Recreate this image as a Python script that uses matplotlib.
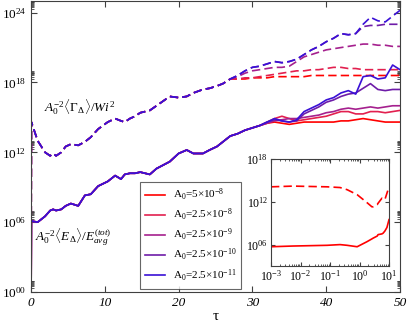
import matplotlib
matplotlib.use("Agg")
import matplotlib.pyplot as plt
import numpy as np
from matplotlib.ticker import FixedLocator, FixedFormatter, NullFormatter

plt.rcParams["font.family"] = ["Liberation Serif", "DejaVu Serif"]
plt.rcParams["mathtext.fontset"] = "custom"
plt.rcParams["mathtext.rm"] = "Liberation Serif"
plt.rcParams["mathtext.it"] = "Liberation Serif:italic"
plt.rcParams["mathtext.cal"] = "Liberation Serif:italic"

# ---- data (log10 of the plotted quantities) ----
labels = ["A$_0$=5×10$^{-8}$", "A$_0$=2.5×10$^{-8}$", "A$_0$=2.5×10$^{-9}$",
          "A$_0$=2.5×10$^{-10}$", "A$_0$=2.5×10$^{-11}$"]
colors = ["#FF0000", "#E2204F", "#A5208E", "#6E1CA8", "#3A10D6"]

# common early part shared by all amplitudes
tau_common = [0, 0.05, 0.9, 1.9, 2.6, 3.0, 3.4, 4.1, 4.7, 5.4, 6.4, 7.3, 8.1, 9.1,
              10.4, 11.4, 12.2, 12.7, 13.4, 14.1, 14.8, 16.1, 17.0, 18.8, 20.0,
              21.1, 22.0, 23.3, 24.2, 25.2, 26.0, 27.0]
gamma_common = [-3, 14.6, 13.0, 12.0, 11.7, 11.9, 11.7, 12.0, 12.5, 12.7, 12.6, 12.9,
                13.3, 14.0, 14.6, 14.9, 14.7, 14.6, 14.9, 15.1, 15.4, 15.6, 16.0,
                16.8, 16.7, 16.8, 17.1, 17.4, 17.5, 17.7, 17.9, 18.3]
energy_common = [-3, 6.1, 6.0, 6.5, 7.0, 7.1, 7.0, 7.1, 7.4, 7.6, 7.4, 8.3, 8.4,
                 9.1, 9.5, 10.0, 9.7, 10.1, 10.2, 10.2, 10.3, 10.1, 10.6, 11.2,
                 11.9, 12.2, 11.9, 11.9, 12.2, 12.5, 12.9, 13.4]

tau_late = [28, 29, 30, 31, 32, 33, 34, 35, 36, 37, 38, 39, 40, 41, 42, 43, 44,
            45, 46, 47, 48, 49, 50]
gamma_late = [
    [18.3, 18.3, 18.4, 18.4, 18.4, 18.5, 18.5, 18.5, 18.5, 18.5, 18.6, 18.6,
     18.6, 18.6, 18.6, 18.6, 18.6, 18.6, 18.6, 18.6, 18.6, 18.6, 18.6],
    [18.3, 18.4, 18.4, 18.5, 18.6, 18.7, 18.8, 18.9, 19.0, 19.0, 19.1, 19.1,
     19.2, 19.3, 19.3, 19.2, 19.2, 19.1, 19.1, 19.1, 19.1, 19.1, 19.1],
    [18.5, 18.8, 19.0, 19.1, 19.2, 19.3, 19.3, 19.4, 19.8, 20.2, 20.4, 20.6,
     20.8, 20.9, 21.0, 21.1, 21.2, 21.3, 21.3, 21.2, 21.2, 21.1, 21.1],
    [18.6, 19.0, 19.3, 19.4, 19.6, 19.8, 19.7, 19.8, 20.0, 20.4, 20.8, 21.1,
     21.5, 21.8, 22.2, 22.1, 22.2, 22.8, 22.9, 22.9, 23.0, 23.0, 23.0],
    [18.6, 19.0, 19.3, 19.4, 19.6, 19.8, 19.7, 19.8, 20.0, 20.4, 20.8, 21.1,
     21.5, 21.8, 22.2, 22.1, 22.2, 23.0, 23.6, 23.3, 23.2, 23.7, 24.2],
]
energy_late = [
    [13.6, 13.9, 14.1, 14.3, 14.5, 14.6, 14.5, 14.4, 14.5, 14.6, 14.6, 14.6,
     14.6, 14.6, 14.7, 14.7, 14.8, 14.9, 14.8, 14.7, 14.6, 14.6, 14.6],
    [13.6, 13.9, 14.1, 14.3, 14.6, 14.9, 15.1, 14.9, 14.7, 14.8, 14.9, 15.0,
     15.1, 15.3, 15.5, 15.5, 15.3, 15.3, 15.5, 15.5, 15.4, 15.5, 15.6],
    [13.6, 13.9, 14.1, 14.3, 14.5, 14.7, 14.8, 14.9, 14.9, 15.0, 15.1, 15.2,
     15.4, 15.5, 15.7, 15.8, 15.7, 15.8, 15.9, 15.8, 15.9, 16.0, 16.0],
    [13.6, 13.9, 14.1, 14.3, 14.6, 14.8, 14.7, 14.6, 14.7, 15.3, 15.6, 15.9,
     16.3, 16.5, 16.8, 17.0, 17.1, 17.5, 17.9, 17.4, 17.3, 17.4, 17.4],
    [13.6, 13.9, 14.1, 14.3, 14.6, 14.9, 14.7, 14.6, 14.8, 15.5, 15.8, 16.1,
     16.5, 16.7, 17.1, 17.3, 17.0, 18.5, 18.6, 18.3, 18.4, 19.5, 19.1],
]

# inset (largest amplitude, log-log)
inset_logtau = [-3.0, -2.25, -1.1, -0.66, -0.42, -0.08, 0.25, 0.42, 0.46, 0.6,
                0.63, 0.76, 0.8, 0.86, 0.93, 1.0]
inset_gamma = [14.1, 14.2, 14.1, 14.0, 13.7, 13.0, 11.9, 11.3, 11.3, 11.6, 11.8,
               12.5, 12.4, 12.3, 13.2, 14.1]
inset_energy = [5.7, 5.8, 5.9, 6.0, 5.9, 5.7, 6.4, 6.8, 6.9, 7.2, 7.4, 7.5, 7.6,
                7.9, 8.4, 9.5]

W, H = 407, 327
fig = plt.figure(figsize=(W / 100, H / 100), dpi=100)
ax = fig.add_axes([31 / W, 1 - 292 / H, 369 / W, 291 / H])

tau_all = tau_common + tau_late
handles = []
for i in range(5):
    g = 10.0 ** np.array(gamma_common + gamma_late[i])
    e = 10.0 ** np.array(energy_common + energy_late[i])
    ax.plot(tau_all, g, color=colors[i], lw=1.2, dashes=(5, 2.5))
    h, = ax.plot(tau_all, e, color=colors[i], lw=1.2)
    handles.append(h)


def it_pow(k, fmt):
    return r"$\mathit{10}^{\mathit{%s}}$" % (fmt % k)


ax.set_yscale("log")
ax.set_xlim(0, 50)
ax.set_ylim(1e0, 1e25)
ymaj = [0, 6, 12, 18, 24]
ax.yaxis.set_major_locator(FixedLocator([10.0 ** k for k in ymaj]))
ax.yaxis.set_major_formatter(FixedFormatter([it_pow(k, "%02d") for k in ymaj]))
ax.yaxis.set_minor_locator(FixedLocator([m * 10.0 ** k for k in ymaj for m in range(2, 10)]))
ax.yaxis.set_minor_formatter(NullFormatter())
ax.set_xticks([0, 10, 20, 30, 40, 50])
ax.tick_params(which="both", direction="in", top=True, right=True, labelsize=9.5,
               color="#404040")
ax.tick_params(which="major", length=4)
ax.tick_params(which="minor", length=2)
for t in ax.get_xticklabels():
    t.set_fontstyle("italic")
for s in ax.spines.values():
    s.set_color("#404040")
    s.set_linewidth(0.8)
ax.set_xlabel("τ", fontsize=11, labelpad=1)

ax.text(0.035, 0.635, r"$A_0^{-2}\langle\Gamma_\Delta\rangle/Wi^2$", transform=ax.transAxes,
        fontsize=9.5, ha="left", va="center")
ax.text(0.012, 0.19, r"$A_0^{-2}\langle E_\Delta\rangle/E_{avg}^{(tot)}$", transform=ax.transAxes,
        fontsize=9.5, ha="left", va="center")

leg = fig.legend(handles, labels, loc="upper left", bbox_to_anchor=(140 / W, 1 - 182 / H),
                 fontsize=8, frameon=True, fancybox=False, edgecolor="#404040",
                 handlelength=1.8, handletextpad=0.7, labelspacing=0.36,
                 borderpad=0.45, borderaxespad=0)
leg.get_frame().set_linewidth(0.8)

# ---- inset ----
ins = fig.add_axes([271 / W, 1 - 266 / H, 118 / W, 107 / H])
ins.plot(10.0 ** np.array(inset_logtau), 10.0 ** np.array(inset_gamma), color=colors[0],
         lw=1.2, dashes=(5, 2.5))
ins.plot(10.0 ** np.array(inset_logtau), 10.0 ** np.array(inset_energy), color=colors[0], lw=1.2)
ins.set_xscale("log")
ins.set_yscale("log")
ins.set_xlim(1e-3, 1e1)
ins.set_ylim(1e3, 1e18)
iy = [6, 12, 18]
ins.yaxis.set_major_locator(FixedLocator([10.0 ** k for k in iy]))
ins.yaxis.set_major_formatter(FixedFormatter([it_pow(k, "%02d") for k in iy]))
ins.yaxis.set_minor_locator(FixedLocator([]))
ix = [-3, -2, -1, 0, 1]
ins.xaxis.set_major_locator(FixedLocator([10.0 ** k for k in ix]))
ins.xaxis.set_major_formatter(FixedFormatter([it_pow(k, "%d") for k in ix]))
ins.xaxis.set_minor_locator(FixedLocator([m * 10.0 ** k for k in ix[:-1] for m in range(2, 10)]))
ins.xaxis.set_minor_formatter(NullFormatter())
ins.tick_params(which="both", direction="in", top=True, right=True, labelsize=8.5,
                color="#404040", pad=2)
ins.tick_params(which="major", length=3)
ins.tick_params(which="minor", length=1.5)
for s in ins.spines.values():
    s.set_color("#404040")
    s.set_linewidth(0.8)

fig.savefig("out.png", dpi=100)
